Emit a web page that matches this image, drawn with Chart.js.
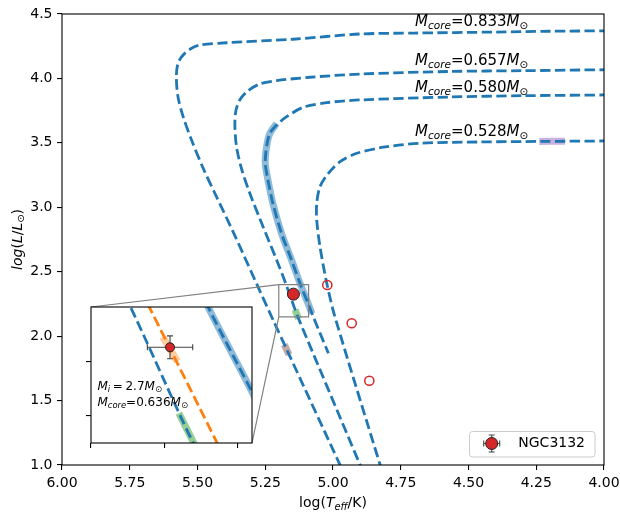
<!DOCTYPE html>
<html>
<head>
<meta charset="UTF-8">
<title>NGC3132 evolutionary tracks</title>
<script src="https://cdn.jsdelivr.net/npm/chart.js"></script>
<style>
  body { margin: 0; background: #fff; }
  #wrap { position: relative; width: 620px; height: 515px; }
  #main { position: absolute; left: 0; top: 0; }
  #inset { position: absolute; left: 81px; top: 297px; }
</style>
</head>
<body>
<div id="wrap">
  <canvas id="main" width="620" height="515"></canvas>
  <canvas id="inset" width="181" height="156"></canvas>
</div>
<script>
// ---- values: [log Teff, log L] ----
const xTicks = [6.0, 5.75, 5.5, 5.25, 5.0, 4.75, 4.5, 4.25, 4.0];
const yTicks = [1.0, 1.5, 2.0, 2.5, 3.0, 3.5, 4.0, 4.5];
const insetXTicks = [5.20, 5.15, 5.10];
const insetYTicks = [2.2, 2.3];
const insetXRange = [5.09, 5.20];
const insetYRange = [2.15, 2.40];

const coreMasses = ['0.833', '0.657', '0.580', '0.528'];

const track833 = [[3.98, 4.370], [4.20, 4.366], [4.40, 4.360], [4.70, 4.352], [4.90, 4.345],
  [5.148, 4.304], [5.393, 4.277], [5.492, 4.259], [5.522, 4.234], [5.553, 4.182], [5.572, 4.117],
  [5.578, 4.013], [5.572, 3.858], [5.553, 3.703], [5.522, 3.522], [5.479, 3.303], [5.436, 3.109],
  [5.366, 2.798], [5.277, 2.384], [5.221, 2.125], [5.170, 1.893], [4.974, 1.0], [4.963, 0.95]];
const track657 = [[3.98, 4.068], [4.30, 4.060], [4.567, 4.054], [4.900, 4.034], [5.085, 4.009],
  [5.208, 3.983], [5.270, 3.957], [5.313, 3.905], [5.344, 3.833], [5.359, 3.742], [5.362, 3.625],
  [5.356, 3.470], [5.338, 3.303], [5.307, 3.109], [5.258, 2.849], [5.208, 2.591], [5.173, 2.400],
  [5.139, 2.200], [5.130, 2.150], [4.900, 1.0], [4.890, 0.95]];
const track580 = [[3.98, 3.872], [4.30, 3.866], [4.567, 3.856], [4.900, 3.833], [5.023, 3.812],
  [5.110, 3.776], [5.171, 3.703], [5.208, 3.639], [5.233, 3.574], [5.245, 3.470], [5.250, 3.344],
  [5.240, 3.212], [5.222, 3.031], [5.190, 2.798], [5.153, 2.591], [5.120, 2.400], [5.090, 2.244],
  [5.073, 2.151], [5.017, 1.867]];
const track528 = [[3.98, 3.515], [4.235, 3.511], [4.457, 3.507], [4.678, 3.497], [4.814, 3.466],
  [4.912, 3.419], [4.974, 3.354], [5.017, 3.264], [5.048, 3.160], [5.060, 3.031], [5.060, 2.901],
  [5.048, 2.694], [5.023, 2.410], [4.993, 2.151], [4.826, 1.0], [4.818, 0.95]];
const track636 = [[5.1656, 2.43], [5.160, 2.399], [5.114, 2.151], [5.1085, 2.12]];

const band580 = [[5.208, 3.650], [5.233, 3.574], [5.245, 3.470], [5.250, 3.344], [5.240, 3.212],
  [5.222, 3.031], [5.190, 2.798], [5.153, 2.591], [5.120, 2.400], [5.090, 2.244], [5.078, 2.175]];
const bandGreen = [[5.140, 2.205], [5.127, 2.135]];
const bandBrown = [[5.180, 1.935], [5.162, 1.855]];
const bandPurple = [[4.239, 3.511], [4.144, 3.513]];
const band636 = [[5.151, 2.345], [5.141, 2.300]];

const otherTeff = [5.021, 4.931, 4.866];
const otherLum = [2.397, 2.100, 1.654];

const ngcName = 'NGC3132';
const ngcTeff = [5.146];
const ngcLum = [2.326];
const ngcTeffErr = [0.0155];
const ngcLumErr = [0.021];
const initialMass = '2.7';
const ngcCoreMass = '0.636';

// ---- styling ----
const FONT = "'DejaVu Sans'";
const BLUE = '#1f77b4', ORANGE = '#ff7f0e', RED = '#d62728';
const DASH = [10.3, 4.4];

const labelSpots = [[4.697, 4.407], [4.697, 4.104], [4.697, 3.897], [4.697, 3.553]];

function pts(arr) { return arr.map(p => ({x: p[0], y: p[1]})); }
function trackDs(arr, color) {
  return {data: pts(arr), showLine: true, borderColor: color, borderWidth: 2.8, borderDash: DASH,
    pointRadius: 0, tension: 0.3, clip: 0, order: 3, borderJoinStyle: 'round'};
}
function bandDs(arr, color) {
  return {data: pts(arr), showLine: true, borderColor: color, borderWidth: 7,
    pointRadius: 0, tension: 0.3, clip: 0, order: 4, borderJoinStyle: 'round'};
}
function ngcDs(r) {
  return {data: ngcTeff.map((v, i) => ({x: v, y: ngcLum[i]})), errX: ngcTeffErr, errY: ngcLumErr,
    pointRadius: r, pointBackgroundColor: RED, pointBorderColor: '#222', pointBorderWidth: 1,
    showLine: false, order: 0};
}

// rich text with italic / subscript pieces
function fontOf(p, size) {
  return (p.it ? 'italic ' : '') + (p.sub ? size * 0.7 : size) + 'px ' + FONT;
}
function richWidth(ctx, parts, size) {
  let w = 0;
  parts.forEach(p => {
    ctx.font = fontOf(p, size);
    w += ctx.measureText(p.t).width + ((p.pre || 0) + (p.post || 0)) * size;
  });
  return w;
}
function drawRich(ctx, parts, x, y, size, center) {
  ctx.save();
  ctx.fillStyle = '#000';
  ctx.textAlign = 'left';
  ctx.textBaseline = 'alphabetic';
  let cx = center ? x - richWidth(ctx, parts, size) / 2 : x;
  parts.forEach(p => {
    ctx.font = fontOf(p, size);
    cx += (p.pre || 0) * size;
    ctx.fillText(p.t, cx, y + (p.sub ? 0.2 * size : 0));
    cx += ctx.measureText(p.t).width + (p.post || 0) * size;
  });
  ctx.restore();
}
function coreLabel(m) {
  return [{t: 'M', it: 1}, {t: 'core', it: 1, sub: 1}, {t: '=' + m}, {t: 'M', it: 1}, {t: '\u2299', sub: 1}];
}

function drawErr(ctx, cx, x1, x2, cy, y1, y2, cap) {
  ctx.beginPath();
  ctx.moveTo(x1, cy); ctx.lineTo(x2, cy);
  ctx.moveTo(cx, y1); ctx.lineTo(cx, y2);
  ctx.moveTo(x1, cy - cap); ctx.lineTo(x1, cy + cap);
  ctx.moveTo(x2, cy - cap); ctx.lineTo(x2, cy + cap);
  ctx.moveTo(cx - cap, y1); ctx.lineTo(cx + cap, y1);
  ctx.moveTo(cx - cap, y2); ctx.lineTo(cx + cap, y2);
  ctx.stroke();
}

const errPlugin = {
  id: 'errbars',
  beforeDatasetDraw(chart, args) {
    const ds = chart.data.datasets[args.index];
    if (!ds.errX) return;
    const {ctx, scales: {x, y}} = chart;
    ctx.save();
    ctx.strokeStyle = '#444';
    ctx.lineWidth = 1.1;
    ds.data.forEach((p, i) => {
      drawErr(ctx, x.getPixelForValue(p.x),
        x.getPixelForValue(p.x + ds.errX[i]), x.getPixelForValue(p.x - ds.errX[i]),
        y.getPixelForValue(p.y),
        y.getPixelForValue(p.y + ds.errY[i]), y.getPixelForValue(p.y - ds.errY[i]), 3);
    });
    ctx.restore();
  }
};

function axisOpts(min, max, reverse, ticks, fmt, fitSize, horizontal, showLabels) {
  return {
    type: 'linear', min: min, max: max, reverse: reverse,
    afterBuildTicks: s => { s.ticks = ticks.map(v => ({value: v})); },
    afterFit: s => {
      if (horizontal) s.height = fitSize; else s.width = fitSize;
      s.paddingLeft = s.paddingRight = s.paddingTop = s.paddingBottom = 0;
    },
    grid: {drawOnChartArea: false, drawTicks: true, tickLength: 5, color: '#000', lineWidth: 1.1},
    border: {display: false},
    ticks: {display: showLabels, font: {family: FONT, size: 14}, color: '#000', padding: 4.5,
      maxRotation: 0, autoSkip: false, callback: v => v.toFixed(fmt)}
  };
}

// ---- inset ----
const insetDeco = {
  id: 'insetDeco',
  beforeDraw(chart) {
    const {ctx, chartArea: a} = chart;
    ctx.save();
    ctx.fillStyle = '#fff';
    ctx.fillRect(a.left, a.top, a.right - a.left, a.bottom - a.top);
    ctx.restore();
  },
  afterDatasetsDraw(chart) {
    const {ctx, chartArea: a} = chart;
    ctx.save();
    ctx.strokeStyle = '#000';
    ctx.lineWidth = 1.1;
    ctx.strokeRect(a.left, a.top, a.right - a.left, a.bottom - a.top);
    ctx.restore();
    const h = a.bottom - a.top, tx = a.left + 0.04 * (a.right - a.left);
    drawRich(ctx, [{t: 'M', it: 1}, {t: 'i', it: 1, sub: 1}, {t: '=', pre: 0.22, post: 0.22},
      {t: initialMass}, {t: 'M', it: 1}, {t: '\u2299', sub: 1}], tx, a.bottom - 0.393 * h, 12);
    drawRich(ctx, coreLabel(ngcCoreMass), tx, a.bottom - 0.272 * h, 12);
  }
};

const insetChart = new Chart(document.getElementById('inset'), {
  type: 'scatter',
  data: {datasets: [
    bandDs(band580, 'rgba(31,119,180,0.5)'),
    bandDs(bandGreen, 'rgba(44,160,44,0.5)'),
    bandDs(band636, 'rgba(255,127,14,0.4)'),
    trackDs(track833, BLUE), trackDs(track657, BLUE), trackDs(track580, BLUE), trackDs(track528, BLUE),
    trackDs(track636, ORANGE),
    ngcDs(4.5)
  ]},
  options: {
    responsive: false, animation: false, devicePixelRatio: 1, events: [],
    layout: {padding: {left: 0, top: 10, right: 10, bottom: 0}, autoPadding: false},
    plugins: {legend: {display: false}, tooltip: {enabled: false}},
    scales: {
      x: axisOpts(insetXRange[0], insetXRange[1], true, insetXTicks, 2, 10, true, false),
      y: axisOpts(insetYRange[0], insetYRange[1], false, insetYTicks, 1, 10, false, false)
    }
  },
  plugins: [insetDeco, errPlugin]
});

// ---- main ----
const mainDeco = {
  id: 'mainDeco',
  afterDatasetsDraw(chart) {
    const {ctx, chartArea: a, scales: {x, y}} = chart;
    ctx.save();
    ctx.strokeStyle = '#000';
    ctx.lineWidth = 1.1;
    ctx.strokeRect(a.left, a.top, a.right - a.left, a.bottom - a.top);

    // connectors to the inset
    const ia = insetChart.chartArea, ic = insetChart.canvas;
    const ox = ic.offsetLeft, oy = ic.offsetTop;
    ctx.strokeStyle = '#808080';
    ctx.lineWidth = 1.2;
    ctx.beginPath();
    ctx.moveTo(ox + ia.left, oy + ia.top);
    ctx.lineTo(x.getPixelForValue(insetXRange[1]), y.getPixelForValue(insetYRange[1]));
    ctx.moveTo(ox + ia.right, oy + ia.bottom);
    ctx.lineTo(x.getPixelForValue(insetXRange[1]), y.getPixelForValue(insetYRange[0]));
    ctx.stroke();
    ctx.restore();

    // track labels
    coreMasses.forEach((m, i) => {
      drawRich(ctx, coreLabel(m), x.getPixelForValue(labelSpots[i][0]), y.getPixelForValue(labelSpots[i][1]), 15);
    });

    // axis titles
    drawRich(ctx, [{t: 'log('}, {t: 'T', it: 1}, {t: 'eff', it: 1, sub: 1}, {t: '/K)'}],
      (a.left + a.right) / 2, 507, 14, true);
    ctx.save();
    ctx.translate(21.5, (a.top + a.bottom) / 2);
    ctx.rotate(-Math.PI / 2);
    drawRich(ctx, [{t: 'log', it: 1}, {t: '('}, {t: 'L', it: 1}, {t: '/'}, {t: 'L', it: 1},
      {t: '\u2299', sub: 1}, {t: ')'}], 0, 0, 14, true);
    ctx.restore();

    // legend
    const lx = 469.5, ly = 431.5, lw = 125.5, lh = 25.5;
    ctx.save();
    ctx.beginPath();
    ctx.roundRect(lx, ly, lw, lh, 3);
    ctx.fillStyle = 'rgba(255,255,255,0.8)';
    ctx.fill();
    ctx.strokeStyle = '#cccccc';
    ctx.lineWidth = 1;
    ctx.stroke();
    const mx = 491.7, my = 443.5;
    ctx.strokeStyle = '#444';
    ctx.lineWidth = 1.1;
    drawErr(ctx, mx, mx - 8, mx + 8, my, my - 8.5, my + 8.5, 3);
    ctx.beginPath();
    ctx.arc(mx, my, 6, 0, Math.PI * 2);
    ctx.fillStyle = RED;
    ctx.fill();
    ctx.strokeStyle = '#222';
    ctx.lineWidth = 1;
    ctx.stroke();
    ctx.fillStyle = '#000';
    ctx.font = '14px ' + FONT;
    ctx.textBaseline = 'middle';
    ctx.fillText(ngcName, 518.3, my);
    ctx.restore();
  }
};

const boxPts = [[insetXRange[1], insetYRange[0]], [insetXRange[0], insetYRange[0]],
  [insetXRange[0], insetYRange[1]], [insetXRange[1], insetYRange[1]], [insetXRange[1], insetYRange[0]]];

new Chart(document.getElementById('main'), {
  type: 'scatter',
  data: {datasets: [
    bandDs(band580, 'rgba(31,119,180,0.5)'),
    bandDs(bandGreen, 'rgba(44,160,44,0.5)'),
    bandDs(bandBrown, 'rgba(140,86,75,0.5)'),
    bandDs(bandPurple, 'rgba(148,103,189,0.5)'),
    trackDs(track833, BLUE), trackDs(track657, BLUE), trackDs(track580, BLUE), trackDs(track528, BLUE),
    {data: pts(boxPts), showLine: true, borderColor: '#808080', borderWidth: 1.2, pointRadius: 0,
      tension: 0, order: 2},
    {data: otherTeff.map((v, i) => ({x: v, y: otherLum[i]})), pointRadius: 4.6, pointBorderWidth: 1.5,
      pointBorderColor: RED, pointBackgroundColor: 'rgba(0,0,0,0)', showLine: false, order: 1},
    ngcDs(6)
  ]},
  options: {
    responsive: false, animation: false, devicePixelRatio: 1, events: [],
    layout: {padding: {left: 0, top: 14, right: 16, bottom: 0}, autoPadding: false},
    plugins: {legend: {display: false}, tooltip: {enabled: false}},
    scales: {
      x: axisOpts(4, 6, true, xTicks, 2, 50, true, true),
      y: axisOpts(1, 4.5, false, yTicks, 1, 62, false, true)
    }
  },
  plugins: [mainDeco, errPlugin]
});
</script>
</body>
</html>
